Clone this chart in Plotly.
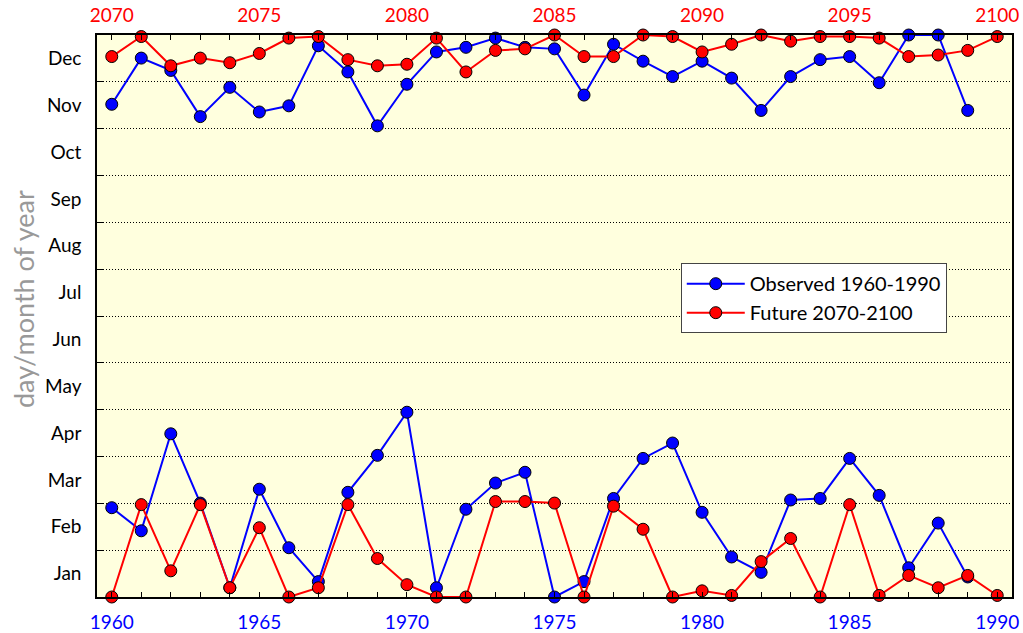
import plotly.graph_objects as go

# Observed 1960-1990 (day of year)
obs_years = list(range(1960, 1990))
obs_autumn = [320, 350, 342, 312, 331, 315, 319, 358, 341, 306, 333, 354, 357, 363, 357,
              356, 326, 359, 348, 338, 348, 337, 316, 338, 349, 351, 334, 365, 365, 316]
obs_spring = [58, 43, 106, 61, 6, 70, 32, 10, 68, 92, 120, 6, 57, 74, 81,
              0, 10, 64, 90, 100, 55, 26, 16, 63, 64, 90, 66, 19, 48, 13]

# Future 2070-2100 (day of year)
fut_years = list(range(2070, 2101))
fut_autumn = [351, 364, 345, 350, 347, 353, 363, 364, 349, 345, 346, 363, 341, 355, 356,
              365, 351, 351, 365, 364, 354, 359, 365, 361, 364, 364, 363, 351, 352, 355, 364]
fut_spring = [0, 60, 17, 60, 6, 45, 0, 6, 60, 25, 8, 0, 0, 62, 62,
              61, 0, 59, 44, 0, 4, 1, 23, 38, 0, 60, 1, 14, 6, 14, 1]

months = ["Jan", "Feb", "Mar", "Apr", "May", "Jun", "Jul", "Aug", "Sep", "Oct", "Nov", "Dec"]
month_len = 365 / 12
month_centers = [(i + 0.5) * month_len for i in range(12)]
month_bounds = [i * month_len for i in range(1, 12)]

BLUE = "#0000FF"
RED = "#FF0000"
FONT = "Lato"

fig = go.Figure()

def add(xs, ys, color, name, show, xaxis):
    fig.add_trace(go.Scatter(
        x=xs, y=ys, mode="lines+markers", name=name, legendgroup=name, showlegend=show,
        line=dict(color=color, width=2),
        marker=dict(size=12, color=color, line=dict(color="black", width=1)),
        xaxis=xaxis, yaxis="y", cliponaxis=False,
    ))

add(obs_years, obs_autumn, BLUE, "Observed 1960-1990", True, "x")
add(obs_years, obs_spring, BLUE, "Observed 1960-1990", False, "x")
add(fut_years, fut_autumn, RED, "Future 2070-2100", True, "x2")
add(fut_years, fut_spring, RED, "Future 2070-2100", False, "x2")

fig.add_annotation(
    text="day/month of year", xref="paper", yref="paper", x=-0.081, y=0.53,
    xanchor="center", yanchor="middle", textangle=-90, showarrow=False,
    font=dict(size=27, color="#999999", family=FONT),
)

fig.update_layout(
    width=1023, height=633,
    margin=dict(l=97, r=11, t=35, b=36, autoexpand=False),
    paper_bgcolor="white",
    plot_bgcolor="#FFFFDE",
    font=dict(family=FONT, size=19, color="black"),
    showlegend=True,
    legend=dict(x=0.638, y=0.594, xanchor="left", yanchor="top",
                bgcolor="white", bordercolor="#444", borderwidth=1,
                font=dict(family=FONT, size=20, color="black"),
                tracegroupgap=0, itemwidth=58),
    xaxis=dict(
        range=[1959.5, 1990.5], tickmode="array", tickvals=[1960, 1965, 1970, 1975, 1980, 1985, 1990],
        ticks="inside", ticklen=5, tickcolor="black", showgrid=False, zeroline=False,
        showline=True, linecolor="black", linewidth=1.5, automargin=False,
        tickfont=dict(color=BLUE, size=19, family=FONT), ticklabelstandoff=7,
        minor=dict(dtick=1, tick0=1960, ticks="inside", ticklen=5, tickcolor="black", showgrid=False),
    ),
    xaxis2=dict(
        range=[2069.5, 2100.5], overlaying="x", side="top", tickmode="array",
        tickvals=[2070, 2075, 2080, 2085, 2090, 2095, 2100],
        ticks="inside", ticklen=5, tickcolor="black", showgrid=False, zeroline=False,
        showline=True, linecolor="black", linewidth=1.5, automargin=False,
        tickfont=dict(color=RED, size=19, family=FONT), ticklabelstandoff=4,
        minor=dict(dtick=1, tick0=2070, ticks="inside", ticklen=5, tickcolor="black", showgrid=False),
    ),
    yaxis=dict(
        range=[0, 365], tickmode="array", tickvals=month_centers, ticktext=months,
        ticks="", showgrid=False, zeroline=False, automargin=False,
        showline=True, linecolor="black", linewidth=1.5, mirror=True,
        tickfont=dict(size=19, family=FONT, color="black"),
        ticklabelstandoff=10,
        minor=dict(tickmode="array", tickvals=month_bounds, ticks="inside", ticklen=6, tickcolor="black",
                   showgrid=True, gridcolor="black", griddash="1px,2px", gridwidth=1),
    ),
)

fig.write_html("out.html", config={"displayModeBar": False},
               post_script="document.body.style.margin='0';")
